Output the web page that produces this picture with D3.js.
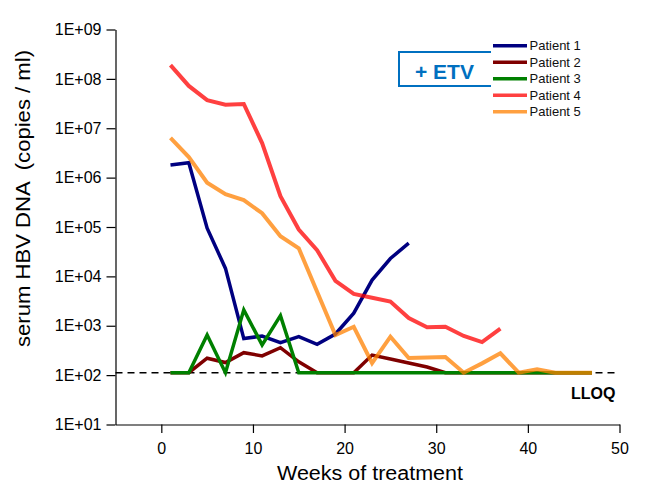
<!DOCTYPE html>
<html>
<head>
<meta charset="utf-8">
<script src="https://cdn.jsdelivr.net/npm/d3@7"></script>
<style>
  html, body { margin: 0; padding: 0; background: #fff; }
  svg { display: block; font-family: "Liberation Sans", Arial, sans-serif; }
</style>
</head>
<body>
<svg id="chart" width="652" height="485"></svg>
<script>
// Visit weeks (shared x grid for all patients)
const weeks = [1, 3, 5, 7, 9, 11, 13, 15, 17, 19, 21, 23, 25, 27, 29, 31, 33, 35, 37, 39, 41, 43, 45, 47];

// Lower limit of quantification (copies / ml)
const LLOQ = 112;

// Serum HBV DNA per patient, copies / ml, one value per visit week
const patient1 = [1.8e6, 2.0e6, 9.5e4, 1.45e4, 550, 620, 455, 600, 420, 680, 1800, 8400, 2.3e4, 4.7e4];
const patient2 = [112, 112, 220, 180, 285, 245, 360, 186, 112, 112, 112, 255, 212, 176, 146, 112, 112, 112, 112, 112, 112, 112, 112, 112];
const patient3 = [112, 112, 650, 112, 2100, 410, 1600, 112, 112, 112, 112, 112, 112, 112, 112, 112, 112, 112, 112, 112, 112, 112, 112, 112];
const patient4 = [1.9e8, 7.2e7, 3.7e7, 3.0e7, 3.1e7, 5.0e6, 4.2e5, 8.9e4, 3.4e4, 8.1e3, 4.4e3, 3.7e3, 3.1e3, 1.43e3, 930, 955, 620, 468, 870];
const patient5 = [6.4e6, 2.6e6, 7.9e5, 4.6e5, 3.5e5, 1.9e5, 6.5e4, 3.7e4, 4.9e3, 650, 955, 175, 600, 222, 227, 232, 112, 173, 276, 112, 131, 112, 112, 112];

const seriesNames = ["Patient 1", "Patient 2", "Patient 3", "Patient 4", "Patient 5"];
const seriesValues = [patient1, patient2, patient3, patient4, patient5];
const seriesColors = ["#000080", "#7f0000", "#008000", "#ff0000", "#ff8000"];
const seriesOpacity = [1, 1, 1, 0.75, 0.75];
const seriesWidth = [3.5, 3.5, 3.5, 4, 4];

// Axis ticks
const xMajorTicks = [0, 10, 20, 30, 40, 50];
const xMinorTicks = [-5, 5, 15, 25, 35, 45];
const yMajorTicks = [1e1, 1e2, 1e3, 1e4, 1e5, 1e6, 1e7, 1e8, 1e9];
const yTickLabels = ["1E+01", "1E+02", "1E+03", "1E+04", "1E+05", "1E+06", "1E+07", "1E+08", "1E+09"];

const svg = d3.select("#chart");

const x = d3.scaleLinear().domain([-5, 50]).range([115.5, 619.5]);
const y = d3.scaleLog().domain([1e1, 1e9]).range([424.5, 29.5]);

// minor log ticks 2..9 within each decade
const yMinorTicks = [];
yMajorTicks.slice(0, -1).forEach(d => { for (let m = 2; m <= 9; m++) yMinorTicks.push(d * m); });

// ---- y axis ----
const gy = svg.append("g").attr("transform", `translate(${x(-5)},0)`);
gy.call(d3.axisLeft(y).tickValues(yMinorTicks).tickSize(4).tickFormat("").tickSizeOuter(0));
gy.call(d3.axisLeft(y).tickValues(yMajorTicks).tickSize(9).tickPadding(5).tickSizeOuter(0)
  .tickFormat((d, i) => yTickLabels[i]));
gy.selectAll("text").attr("font-size", 16).attr("fill", "#000")
  .attr("font-family", '"Liberation Sans", Arial, sans-serif');
gy.selectAll("line, path").attr("stroke", "#000").attr("stroke-width", 1.2);

// ---- x axis ----
const gx = svg.append("g").attr("transform", `translate(0,${y(1e1)})`);
gx.call(d3.axisBottom(x).tickValues(xMinorTicks).tickSize(6).tickFormat("").tickSizeOuter(0));
gx.call(d3.axisBottom(x).tickValues(xMajorTicks).tickSize(8.5).tickPadding(10).tickSizeOuter(0));
gx.selectAll("text").attr("font-size", 16).attr("fill", "#000")
  .attr("font-family", '"Liberation Sans", Arial, sans-serif');
gx.selectAll("line, path").attr("stroke", "#000").attr("stroke-width", 1.2);

// ---- axis titles ----
svg.append("text")
  .attr("transform", `translate(30,198.5) rotate(-90)`)
  .attr("text-anchor", "middle")
  .attr("font-size", 20)
  .attr("textLength", 297)
  .attr("lengthAdjust", "spacingAndGlyphs")
  .style("white-space", "pre")
  .attr("fill", "#000")
  .text("serum HBV DNA  (copies / ml)");

svg.append("text")
  .attr("x", 370).attr("y", 480)
  .attr("text-anchor", "middle")
  .attr("font-size", 20)
  .attr("textLength", 186)
  .attr("lengthAdjust", "spacingAndGlyphs")
  .attr("fill", "#000")
  .text("Weeks of treatment");

// ---- LLOQ reference line ----
svg.append("line")
  .attr("x1", x(-5)).attr("x2", x(49.6))
  .attr("y1", y(LLOQ)).attr("y2", y(LLOQ))
  .attr("stroke", "#000").attr("stroke-width", 1.5)
  .attr("stroke-dasharray", "7,5");

svg.append("text")
  .attr("x", 615.5).attr("y", 398.5)
  .attr("text-anchor", "end")
  .attr("font-size", 16).attr("font-weight", "bold")
  .attr("fill", "#000")
  .text("LLOQ");

// ---- patient lines ----
const line = d3.line().x(d => x(d[0])).y(d => y(d[1]));
seriesValues.forEach((vals, i) => {
  const pts = vals.map((v, k) => [weeks[k], v]);
  svg.append("path")
    .datum(pts)
    .attr("d", line)
    .attr("fill", "none")
    .attr("stroke", seriesColors[i])
    .attr("stroke-opacity", seriesOpacity[i])
    .attr("stroke-width", seriesWidth[i])
    .attr("stroke-linejoin", "miter")
    .attr("stroke-miterlimit", 10)
    .attr("stroke-linecap", "butt");
});

// ---- treatment box ----
svg.append("rect")
  .attr("x", 399).attr("y", 52).attr("width", 140).attr("height", 34)
  .attr("fill", "#fff").attr("stroke", "#0070c0").attr("stroke-width", 2);
svg.append("text")
  .attr("x", 415).attr("y", 78.5)
  .attr("font-size", 21).attr("font-weight", "bold")
  .attr("fill", "#0070c0")
  .text("+ ETV");

// ---- legend ----
const legend = svg.append("g");
legend.append("rect")
  .attr("x", 491).attr("y", 37).attr("width", 100).attr("height", 84)
  .attr("fill", "#fff");
seriesNames.forEach((name, i) => {
  const cy = 45.7 + i * 16.5;
  legend.append("line")
    .attr("x1", 493).attr("x2", 527)
    .attr("y1", cy).attr("y2", cy)
    .attr("stroke", seriesColors[i])
    .attr("stroke-opacity", seriesOpacity[i])
    .attr("stroke-width", 3.5);
  legend.append("text")
    .attr("x", 529.5).attr("y", cy).attr("dy", "0.36em")
    .attr("font-size", 13).attr("fill", "#111")
    .text(name);
});
</script>
</body>
</html>
